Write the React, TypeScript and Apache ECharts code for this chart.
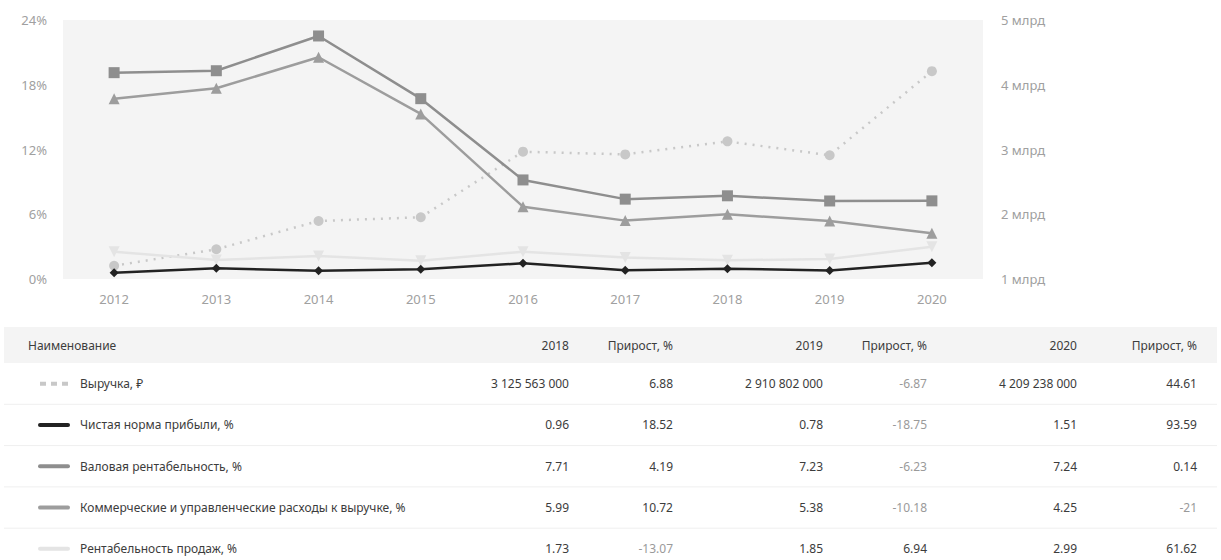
import React, { useEffect, useRef } from 'react';
import * as echarts from 'echarts';

const years = ['2012', '2013', '2014', '2015', '2016', '2017', '2018', '2019', '2020'];
const revenue = [1205000000, 1459000000, 1896000000, 1953000000, 2966000000, 2924000000, 3125563000, 2910802000, 4209238000];
const netMargin = [0.58, 0.99, 0.77, 0.9, 1.45, 0.81, 0.96, 0.78, 1.51];
const grossMargin = [19.12, 19.3, 22.52, 16.71, 9.18, 7.4, 7.71, 7.23, 7.24];
const sgaRatio = [16.71, 17.67, 20.55, 15.3, 6.7, 5.41, 5.99, 5.38, 4.25];
const salesMargin = [2.53, 1.76, 2.13, 1.7, 2.53, 1.99, 1.73, 1.85, 2.99];

const seriesNames = [
  'Выручка, ₽',
  'Чистая норма прибыли, %',
  'Валовая рентабельность, %',
  'Коммерческие и управленческие расходы к выручке, %',
  'Рентабельность продаж, %',
];
const tableYears = ['2018', '2019', '2020'];
const growth2018 = [6.88, 18.52, 4.19, 10.72, -13.07];
const growth2019 = [-6.87, -18.75, -6.23, -10.18, 6.94];
const growth2020 = [44.61, 93.59, 0.14, -21, 61.62];
const headerName = 'Наименование';
const growthHeader = 'Прирост, %';

const FONT = '"Noto Sans", "Open Sans", sans-serif';

function fmtRub(v: number): string {
  return String(Math.round(v)).replace(/\B(?=(\d{3})+(?!\d))/g, ' ');
}
function fmtNum(v: number): string {
  return String(v);
}

export default function App() {
  const ref = useRef<HTMLDivElement>(null);
  useEffect(() => {
    if (!ref.current) return;
    const chart = echarts.init(ref.current, undefined, { renderer: 'svg' });

    const colors = ['#c8c8c8', '#222222', '#8e8e8e', '#9d9d9d', '#e4e4e4'];
    const allSeries = [revenue, netMargin, grossMargin, sgaRatio, salesMargin];
    const growths = [growth2018, growth2019, growth2020];

    const colRights = [569, 673, 823, 927, 1077, 1197];
    const headerTop = 327;
    const headerH = 36;
    const rowH = 41.3;
    const tableLeft = 4;
    const tableRight = 1217;

    const graphics: any[] = [];
    graphics.push({
      type: 'rect',
      shape: { x: tableLeft, y: headerTop, width: tableRight - tableLeft, height: headerH },
      style: { fill: '#f4f4f4' },
      silent: true,
    });
    const headerY = headerTop + headerH / 2;
    const textStyle = (text: string, fill: string, align: string) => ({
      text,
      fill,
      fontSize: 12,
      fontFamily: FONT,
      textAlign: align,
      textVerticalAlign: 'middle',
    });
    graphics.push({ type: 'text', x: 28, y: headerY, style: textStyle(headerName, '#3c3c3c', 'left') });
    tableYears.forEach((y, i) => {
      graphics.push({ type: 'text', x: colRights[i * 2], y: headerY, style: textStyle(y, '#3c3c3c', 'right') });
      graphics.push({ type: 'text', x: colRights[i * 2 + 1], y: headerY, style: textStyle(growthHeader, '#3c3c3c', 'right') });
    });

    seriesNames.forEach((name, r) => {
      const top = headerTop + headerH + r * rowH;
      const cy = top + rowH / 2;
      if (r > 0) {
        graphics.push({
          type: 'line',
          shape: { x1: tableLeft, y1: top, x2: tableRight, y2: top },
          style: { stroke: '#efefef', lineWidth: 1 },
          silent: true,
        });
      }
      graphics.push({
        type: 'line',
        shape: { x1: 40, y1: cy, x2: 68, y2: cy },
        style: {
          stroke: colors[r],
          lineWidth: 4,
          lineCap: r === 0 ? 'butt' : 'round',
          lineDash: r === 0 ? [6, 5] : null,
        },
        silent: true,
      });
      graphics.push({ type: 'text', x: 80, y: cy, style: textStyle(name, '#3c3c3c', 'left') });
      tableYears.forEach((_, i) => {
        const v = allSeries[r][6 + i];
        const txt = r === 0 ? fmtRub(v) : fmtNum(v);
        graphics.push({ type: 'text', x: colRights[i * 2], y: cy, style: textStyle(txt, '#3c3c3c', 'right') });
        const g = growths[i][r];
        graphics.push({
          type: 'text',
          x: colRights[i * 2 + 1],
          y: cy,
          style: textStyle(fmtNum(g), g < 0 ? '#9a9a9a' : '#3c3c3c', 'right'),
        });
      });
    });

    const lineSeries = (name: string, data: number[], color: string, symbol: string, size: number, extra: any = {}) => ({
      name,
      type: 'line',
      data,
      symbol,
      symbolSize: size,
      showSymbol: true,
      lineStyle: { color, width: 2.5, ...(extra.lineStyle || {}) },
      itemStyle: { color },
      symbolRotate: extra.symbolRotate || 0,
      yAxisIndex: extra.yAxisIndex || 0,
      z: extra.z || 2,
      emphasis: { disabled: true },
    });

    chart.setOption({
      animation: false,
      textStyle: { fontFamily: FONT },
      grid: {
        left: 63,
        right: 238,
        top: 20,
        bottom: 281,
        show: true,
        backgroundColor: '#f4f4f4',
        borderWidth: 0,
      },
      xAxis: {
        type: 'category',
        data: years,
        boundaryGap: true,
        axisLine: { show: false },
        axisTick: { show: false },
        axisLabel: { color: '#a0a0a0', fontSize: 13, margin: 13, fontFamily: FONT },
        splitLine: { show: false },
      },
      yAxis: [
        {
          type: 'value',
          min: 0,
          max: 24,
          interval: 6,
          axisLine: { show: false },
          axisTick: { show: false },
          splitLine: { show: false },
          axisLabel: {
            color: '#a0a0a0',
            fontSize: 13,
            margin: 16,
            padding: [5, 0, 0, 0],
            formatter: '{value}%',
            fontFamily: FONT,
          },
        },
        {
          type: 'value',
          position: 'right',
          min: 1000000000,
          max: 5000000000,
          interval: 1000000000,
          axisLine: { show: false },
          axisTick: { show: false },
          splitLine: { show: false },
          axisLabel: {
            color: '#a0a0a0',
            fontSize: 13,
            margin: 18,
            padding: [5, 0, 0, 0],
            fontFamily: FONT,
            formatter: (v: number) => `${Math.round(v / 1000000000)} млрд`,
          },
        },
      ],
      series: [
        lineSeries(seriesNames[0], revenue, colors[0], 'circle', 10, {
          yAxisIndex: 1,
          lineStyle: { type: [2, 6], cap: 'butt' },
          z: 1,
        }),
        lineSeries(seriesNames[4], salesMargin, colors[4], 'triangle', 11, { symbolRotate: 180 }),
        lineSeries(seriesNames[3], sgaRatio, colors[3], 'triangle', 11),
        lineSeries(seriesNames[2], grossMargin, colors[2], 'rect', 11),
        lineSeries(seriesNames[1], netMargin, colors[1], 'diamond', 9, { z: 3 }),
      ],
      graphic: graphics,
    });
    return () => chart.dispose();
  }, []);

  return (
    <div
      ref={ref}
      style={{ position: 'fixed', left: 0, top: 0, width: 1221, height: 560, background: '#fff' }}
    />
  );
}
